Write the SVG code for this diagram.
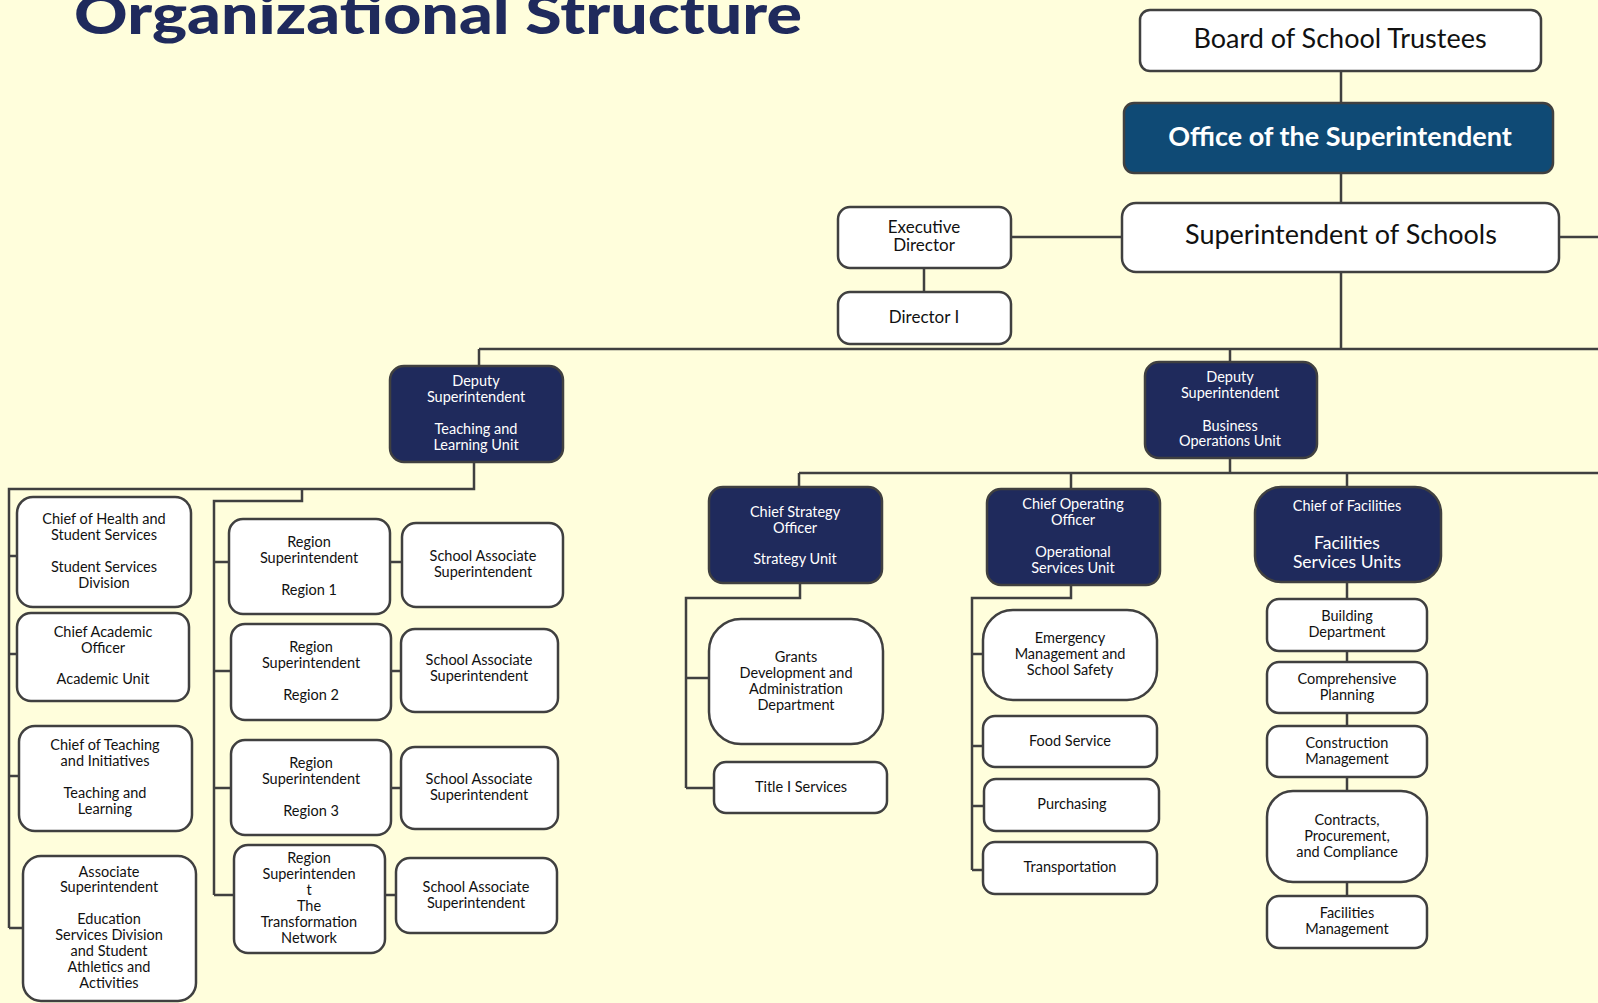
<svg xmlns="http://www.w3.org/2000/svg" width="1598" height="1003" viewBox="0 0 1598 1003">
<style>
.bg{fill:#FFFEDC}
.b{fill:#FFFFFF;stroke:#404040;stroke-width:2.5}
.n{fill:#1F2A5C;stroke:#404040;stroke-width:2.5}
.o{fill:#0F4A75;stroke:#404040;stroke-width:2.5}
.t{font-family:Lato,"Liberation Sans",sans-serif;font-size:14.5px;fill:#111;text-anchor:middle}
.w{fill:#FFFFFF}
.c{fill:none;stroke:#404040;stroke-width:2.5}
.title{font-family:Lato,"Liberation Sans",sans-serif;font-weight:900;font-size:56px;fill:#1F2A5C}
</style>
<rect class="bg" x="0" y="0" width="1598" height="1003"/>
<text class="title" x="74" y="34" textLength="728" lengthAdjust="spacingAndGlyphs">Organizational Structure</text>

<g id="connectors">
<path class="c" d="M1341 71V103 M1341 173V203 M1011 237H1122 M1559 237H1598 M924 268V292 M1341 272V349 M479 349H1598 M479 349V366 M1230 349V362"/>
<path class="c" d="M474 462V489H9V928 M9 556H17 M9 654H17 M9 776H19 M9 928H23"/>
<path class="c" d="M302 489V501H214V895 M214 562H229 M390 562H402 M214 671H231 M391 671H401 M214 788H231 M391 788H401 M214 895H234 M385 895H396"/>
<path class="c" d="M1230 458V473 M799 473H1598 M799 473V487 M1071 473V489 M1347 473V487"/>
<path class="c" d="M800 583V598H686V788 M686 678H709 M686 788H714"/>
<path class="c" d="M1071 585V598H972V870 M972 654H983 M972 746H983 M972 806H984 M972 870H983"/>
<path class="c" d="M1347 582V896"/>
</g>

<g id="board"><rect class="b" x="1140" y="10" width="401" height="61" rx="10"/><text class="t" x="1340" y="48" style="font-size:27px">Board of School Trustees</text></g>
<g id="office"><rect class="o" x="1124" y="103" width="429" height="70" rx="10"/><text class="t w" x="1340" y="146" style="font-size:27px;font-weight:bold">Office of the Superintendent</text></g>
<g id="supt"><rect class="b" x="1122" y="203" width="437" height="69" rx="14"/><text class="t" x="1341" y="244" style="font-size:27px">Superintendent of Schools</text></g>
<g id="execdir"><rect class="b" x="838" y="207" width="173" height="61" rx="12"/><text class="t" x="924" y="233" style="font-size:17px">Executive</text><text class="t" x="924" y="251" style="font-size:17px">Director</text></g>
<g id="director1"><rect class="b" x="838" y="292" width="173" height="52" rx="12"/><text class="t" x="924" y="323" style="font-size:17px">Director I</text></g>

<g id="deputy-tl"><rect class="n" x="390" y="366" width="173" height="96" rx="14"/><text class="t w" x="476"><tspan x="476" y="386">Deputy</tspan><tspan x="476" y="402">Superintendent</tspan><tspan x="476" y="434">Teaching and</tspan><tspan x="476" y="450">Learning Unit</tspan></text></g>
<g id="deputy-bo"><rect class="n" x="1145" y="362" width="172" height="96" rx="14"/><text class="t w"><tspan x="1230" y="382">Deputy</tspan><tspan x="1230" y="398">Superintendent</tspan><tspan x="1230" y="431">Business</tspan><tspan x="1230" y="446">Operations Unit</tspan></text></g>

<g id="chief-health"><rect class="b" x="17" y="497" width="174" height="110" rx="16"/><text class="t"><tspan x="104" y="524">Chief of Health and</tspan><tspan x="104" y="540">Student Services</tspan><tspan x="104" y="572">Student Services</tspan><tspan x="104" y="588">Division</tspan></text></g>
<g id="chief-academic"><rect class="b" x="17" y="613" width="172" height="88" rx="14"/><text class="t"><tspan x="103" y="637">Chief Academic</tspan><tspan x="103" y="653">Officer</tspan><tspan x="103" y="684">Academic Unit</tspan></text></g>
<g id="chief-teaching"><rect class="b" x="19" y="726" width="173" height="105" rx="16"/><text class="t"><tspan x="105" y="750">Chief of Teaching</tspan><tspan x="105" y="766">and Initiatives</tspan><tspan x="105" y="798">Teaching and</tspan><tspan x="105" y="814">Learning</tspan></text></g>
<g id="assoc-supt"><rect class="b" x="23" y="856" width="173" height="145" rx="18"/><text class="t"><tspan x="109" y="877">Associate</tspan><tspan x="109" y="892">Superintendent</tspan><tspan x="109" y="924">Education</tspan><tspan x="109" y="940">Services Division</tspan><tspan x="109" y="956">and Student</tspan><tspan x="109" y="972">Athletics and</tspan><tspan x="109" y="988">Activities</tspan></text></g>

<g id="region1"><rect class="b" x="229" y="519" width="161" height="95" rx="14"/><text class="t"><tspan x="309" y="547">Region</tspan><tspan x="309" y="563">Superintendent</tspan><tspan x="309" y="595">Region 1</tspan></text></g>
<g id="sas1"><rect class="b" x="402" y="523" width="161" height="84" rx="14"/><text class="t"><tspan x="483" y="561">School Associate</tspan><tspan x="483" y="577">Superintendent</tspan></text></g>
<g id="region2"><rect class="b" x="231" y="624" width="160" height="96" rx="14"/><text class="t"><tspan x="311" y="652">Region</tspan><tspan x="311" y="668">Superintendent</tspan><tspan x="311" y="700">Region 2</tspan></text></g>
<g id="sas2"><rect class="b" x="401" y="629" width="157" height="83" rx="14"/><text class="t"><tspan x="479" y="665">School Associate</tspan><tspan x="479" y="681">Superintendent</tspan></text></g>
<g id="region3"><rect class="b" x="231" y="740" width="160" height="95" rx="14"/><text class="t"><tspan x="311" y="768">Region</tspan><tspan x="311" y="784">Superintendent</tspan><tspan x="311" y="816">Region 3</tspan></text></g>
<g id="sas3"><rect class="b" x="401" y="747" width="157" height="82" rx="14"/><text class="t"><tspan x="479" y="784">School Associate</tspan><tspan x="479" y="800">Superintendent</tspan></text></g>
<g id="region4"><rect class="b" x="234" y="845" width="151" height="108" rx="14"/><text class="t"><tspan x="309" y="863">Region</tspan><tspan x="309" y="879">Superintenden</tspan><tspan x="309" y="895">t</tspan><tspan x="309" y="911">The</tspan><tspan x="309" y="927">Transformation</tspan><tspan x="309" y="943">Network</tspan></text></g>
<g id="sas4"><rect class="b" x="396" y="858" width="161" height="75" rx="14"/><text class="t"><tspan x="476" y="892">School Associate</tspan><tspan x="476" y="908">Superintendent</tspan></text></g>

<g id="strategy"><rect class="n" x="709" y="487" width="173" height="96" rx="14"/><text class="t w"><tspan x="795" y="517">Chief Strategy</tspan><tspan x="795" y="533">Officer</tspan><tspan x="795" y="564">Strategy Unit</tspan></text></g>
<g id="coo"><rect class="n" x="987" y="489" width="173" height="96" rx="14"/><text class="t w"><tspan x="1073" y="509">Chief Operating</tspan><tspan x="1073" y="525">Officer</tspan><tspan x="1073" y="557">Operational</tspan><tspan x="1073" y="573">Services Unit</tspan></text></g>
<g id="facilities"><rect class="n" x="1255" y="487" width="186" height="95" rx="26"/><text class="t w"><tspan x="1347" y="511">Chief of Facilities</tspan><tspan x="1347" y="549" style="font-size:17.5px">Facilities</tspan><tspan x="1347" y="568" style="font-size:17.5px">Services Units</tspan></text></g>

<g id="grants"><rect class="b" x="709" y="619" width="174" height="125" rx="32"/><text class="t"><tspan x="796" y="662">Grants</tspan><tspan x="796" y="678">Development and</tspan><tspan x="796" y="694">Administration</tspan><tspan x="796" y="710">Department</tspan></text></g>
<g id="title1"><rect class="b" x="714" y="762" width="173" height="51" rx="12"/><text class="t" x="801" y="792">Title I Services</text></g>

<g id="emergency"><rect class="b" x="983" y="610" width="174" height="90" rx="30"/><text class="t"><tspan x="1070" y="643">Emergency</tspan><tspan x="1070" y="659">Management and</tspan><tspan x="1070" y="675">School Safety</tspan></text></g>
<g id="food"><rect class="b" x="983" y="716" width="174" height="51" rx="12"/><text class="t" x="1070" y="746">Food Service</text></g>
<g id="purchasing"><rect class="b" x="984" y="779" width="175" height="52" rx="12"/><text class="t" x="1072" y="809">Purchasing</text></g>
<g id="transportation"><rect class="b" x="983" y="842" width="174" height="52" rx="12"/><text class="t" x="1070" y="872">Transportation</text></g>

<g id="building"><rect class="b" x="1267" y="599" width="160" height="52" rx="12"/><text class="t"><tspan x="1347" y="621">Building</tspan><tspan x="1347" y="637">Department</tspan></text></g>
<g id="planning"><rect class="b" x="1267" y="662" width="160" height="51" rx="12"/><text class="t"><tspan x="1347" y="684">Comprehensive</tspan><tspan x="1347" y="700">Planning</tspan></text></g>
<g id="construction"><rect class="b" x="1267" y="726" width="160" height="51" rx="12"/><text class="t"><tspan x="1347" y="748">Construction</tspan><tspan x="1347" y="764">Management</tspan></text></g>
<g id="contracts"><rect class="b" x="1267" y="791" width="160" height="91" rx="26"/><text class="t"><tspan x="1347" y="825">Contracts,</tspan><tspan x="1347" y="841">Procurement,</tspan><tspan x="1347" y="857">and Compliance</tspan></text></g>
<g id="facmgmt"><rect class="b" x="1267" y="896" width="160" height="52" rx="12"/><text class="t"><tspan x="1347" y="918">Facilities</tspan><tspan x="1347" y="934">Management</tspan></text></g>
</svg>
